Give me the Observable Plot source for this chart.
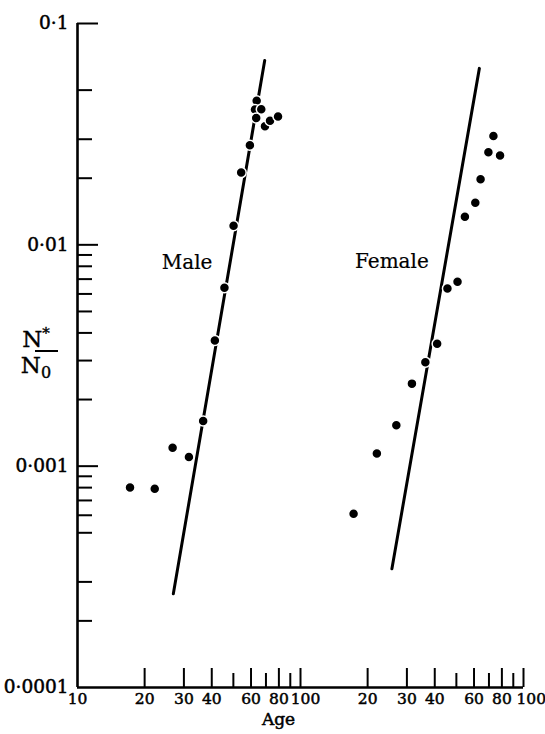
<!DOCTYPE html>
<html>
<head>
<meta charset="utf-8">
<script src="https://cdn.jsdelivr.net/npm/d3@7"></script>
<script src="https://cdn.jsdelivr.net/npm/@observablehq/plot@0.6"></script>
<style>
  html, body { margin: 0; padding: 0; background: white; }
</style>
</head>
<body>
<div id="chart"></div>
<script>
// ---- data ----
const maleAge  = [17.2, 22.2, 26.7, 31.6, 36.6, 41.3, 45.6, 50.1, 54.2, 59.3, 63.6, 62.5, 66.7, 63.3, 69.3, 73.0, 79.3];
const maleRate = [0.00080, 0.00079, 0.00121, 0.00110, 0.00160, 0.0037, 0.0064, 0.0122, 0.0212, 0.0282, 0.0448, 0.0409, 0.0410, 0.0374, 0.0343, 0.0364, 0.0380];
const femaleAge  = [17.3, 22.0, 26.9, 31.6, 36.3, 41.0, 45.6, 50.6, 54.6, 60.8, 64.2, 69.6, 73.3, 78.5];
const femaleRate = [0.00061, 0.00114, 0.00153, 0.00236, 0.00295, 0.00357, 0.00635, 0.00681, 0.0134, 0.0155, 0.0198, 0.0262, 0.0310, 0.0253];
const maleLineAge = [26.9, 69.1];
const maleLineRate = [0.000265, 0.0681];
const femaleLineAge = [25.7, 63.4];
const femaleLineRate = [0.000344, 0.0627];

// axis ticks
const xMajor = [20, 30, 40, 60, 80, 100];
const xMinor = [50, 70, 90];
const xLabels = [10, 20, 30, 40, 60, 80, 100];
const yMajor = [0.1, 0.01, 0.001];
const yMinor = [0.05, 0.03, 0.02,
                0.009, 0.008, 0.007, 0.006, 0.005, 0.004, 0.003, 0.002,
                0.0009, 0.0008, 0.0007, 0.0006, 0.0005, 0.0003, 0.0002];
const yLabels = [0.1, 0.01, 0.001, 0.0001];

const panels = ["Male", "Female"];
const panelLabels = [{sex: "Male", age: 31, rate: 0.0083}, {sex: "Female", age: 25.7, rate: 0.0084}];

// ---- build tables ----
const shift = sex => sex === "Female" ? 10 : 1;   // second panel sits one decade to the right
const pts = [
  ...maleAge.map((a, i) => ({sex: "Male", age: a, rate: maleRate[i]})),
  ...femaleAge.map((a, i) => ({sex: "Female", age: a, rate: femaleRate[i]}))
];
const lines = [
  ...maleLineAge.map((a, i) => ({sex: "Male", age: a, rate: maleLineRate[i]})),
  ...femaleLineAge.map((a, i) => ({sex: "Female", age: a, rate: femaleLineRate[i]}))
];
const px = d => d.age * shift(d.sex);

const xMajorAll = panels.flatMap(s => xMajor.map(v => v * shift(s)));
const xMinorAll = panels.flatMap(s => xMinor.map(v => v * shift(s)));
const xLabelAll = panels.flatMap(s => xLabels.filter(v => !(s === "Female" && v === 10)).map(v => ({pos: v * shift(s), text: String(v)})));
const xLabMid = xLabelAll.filter(d => d.pos === 100);
const xLabEnd = xLabelAll.filter(d => d.pos === 1000);
const xLabRest = xLabelAll.filter(d => d.pos !== 100 && d.pos !== 1000);

const W = 545, H = 734, mL = 77, mR = 22, mT = 23, mB = 47;
const frameH = H - mT - mB, frameW = W - mL - mR;
const fmtY = d => String(d).replace(".", "·");
const heavy = {fill: "black", stroke: "black", strokeWidth: 0.5};
const xl = {x: "pos", y: 0.0001, text: "text", dy: 12, fontSize: 15.5, ...heavy};

const chart = Plot.plot({
  width: W, height: H,
  marginLeft: mL, marginRight: mR, marginTop: mT, marginBottom: mB,
  x: {type: "log", domain: [10, 1000], axis: null},
  y: {type: "log", domain: [0.0001, 0.1], axis: null},
  style: {fontFamily: "DejaVu Serif", background: "white", color: "black"},
  marks: [
    // axis lines
    Plot.ruleX([10], {stroke: "black", strokeWidth: 2.6}),
    Plot.ruleY([0.0001], {stroke: "black", strokeWidth: 2.6}),
    // x ticks (pointing up)
    Plot.ruleX(xMajorAll, {x: d => d, stroke: "black", strokeWidth: 2, insetTop: frameH - 19}),
    Plot.ruleX(xMinorAll, {x: d => d, stroke: "black", strokeWidth: 2, insetTop: frameH - 14}),
    // y ticks (pointing right)
    Plot.ruleY(yMajor, {y: d => d, stroke: "black", strokeWidth: 2, insetRight: frameW - 21}),
    Plot.ruleY(yMinor, {y: d => d, stroke: "black", strokeWidth: 2, insetRight: frameW - 15}),
    // tick labels
    Plot.text(yLabels, {x: 10, y: d => d, text: fmtY, textAnchor: "end", dx: -9, fontSize: 18.5, ...heavy}),
    Plot.text(xLabRest, xl),
    Plot.text(xLabMid, {...xl, dx: 5}),
    Plot.text(xLabEnd, {...xl, dx: -7, textAnchor: "start"}),
    Plot.text(["Age"], {frameAnchor: "bottom", dx: -22, dy: 37.5, fontSize: 17, ...heavy}),
    // fitted lines
    Plot.line(lines, {x: px, y: "rate", z: "sex", stroke: "black", strokeWidth: 3}),
    // observed points
    Plot.dot(pts, {x: px, y: "rate", r: 5, fill: "black", stroke: "white", strokeWidth: 1.5}),
    // panel labels
    Plot.text(panelLabels, {x: px, y: "rate", text: "sex", fontSize: 20, fill: "black", stroke: "black", strokeWidth: 0.2})
  ]
});

// y-axis title as a fraction N*/N0
const svg = d3.select(chart);
const g = svg.append("g").attr("font-family", "DejaVu Serif").attr("fill", "black").attr("stroke", "black").attr("stroke-width", 0.4);
const t1 = g.append("text").attr("x", 36).attr("y", 347).attr("font-size", 23);
t1.append("tspan").text("N");
t1.append("tspan").attr("font-size", 15).attr("dy", -9).text("*");
g.append("line").attr("x1", 35).attr("x2", 58).attr("y1", 351).attr("y2", 351).attr("stroke", "black").attr("stroke-width", 2);
const t2 = g.append("text").attr("x", 36).attr("y", 373).attr("font-size", 23);
t2.append("tspan").text("N");
t2.append("tspan").attr("font-size", 16).attr("dy", 5).text("0");

document.getElementById("chart").appendChild(chart);
</script>
</body>
</html>
